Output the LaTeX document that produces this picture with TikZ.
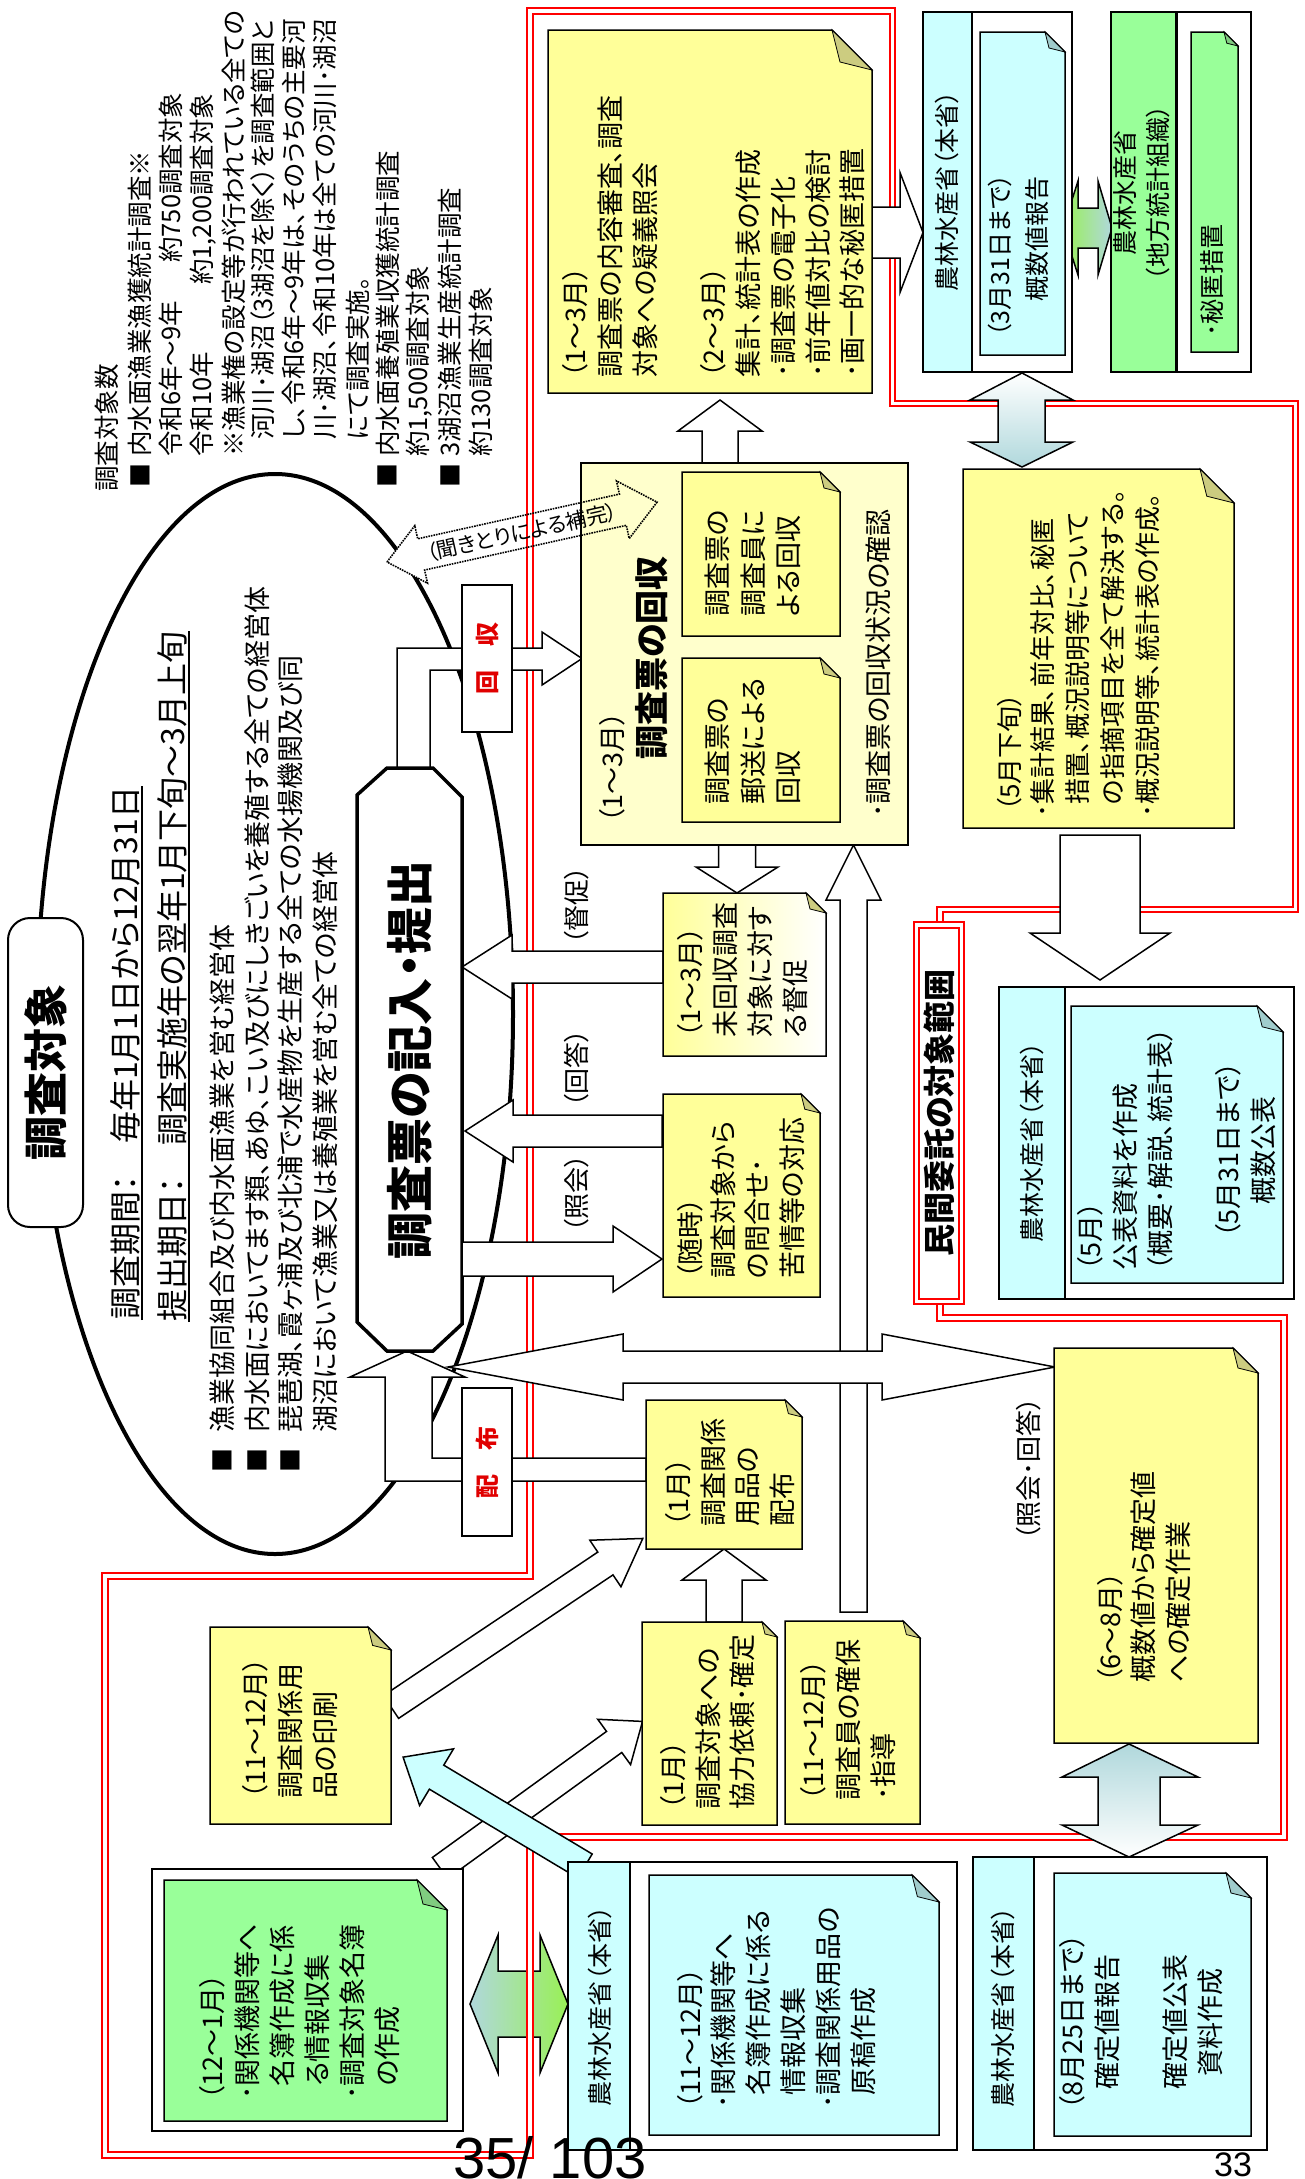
\documentclass[tikz,border=0pt]{standalone}
\usepackage{fontspec}
\setmainfont{Noto Sans CJK JP}[RawFeature={+palt}]
\newfontfamily\arialf{Liberation Sans}
\usetikzlibrary{calc}
\definecolor{nyel}{HTML}{FFFF99}
\definecolor{nyeld}{HTML}{CCCC80}
\definecolor{lyel}{HTML}{FFFFCC}
\definecolor{ncy}{HTML}{CCFFFF}
\definecolor{ncyd}{HTML}{A0CCCC}
\definecolor{ngr}{HTML}{99FF99}
\definecolor{ngrd}{HTML}{80CC80}
\definecolor{lbl}{HTML}{B0D8DC}
\definecolor{lgr}{HTML}{99F055}
\definecolor{rred}{HTML}{FF0000}
\definecolor{tred}{HTML}{E00000}
\newcommand\fs[1]{\fontsize{#1}{#1}\selectfont}
\tikzset{
 vtext/.style={rotate=90,inner sep=0pt,anchor=base west},
 vcen/.style={rotate=90,inner sep=0pt},
 boxline/.style={line width=1.5pt},
 foldline/.style={line width=0.8pt},
 reddbl/.style={draw=rred,line width=2.2pt,double=white,double distance=3.4pt},
 sqmark/.style={rotate=90,inner sep=0pt,font=\fs{24}},
}
\newcommand\vt[5]{\node[vtext,font=\fs{#2}] (#1) at ({#3+0.38*#2},#4) {#5};}
\newcommand\vc[5]{\node[vtext,anchor=base,font=\fs{#2}] (#1) at ({#3+0.38*#2},#4) {#5};}
\newcommand\notebox[7]{%
  \draw[boxline,#6] (#1,#2) -- ({#3-#5},#2) -- (#3,{#2+#5}) -- (#3,#4) -- (#1,#4) -- cycle;
  \draw[foldline,fill=#7] ({#3-#5},#2) -- (#3,{#2+#5}) -- ({#3-0.8*#5},{#2+0.8*#5}) -- cycle;}
\newcommand\barrow[8]{%
  \begin{scope}[shift={(#1,#2)},rotate=#3]
  \draw[boxline,fill=#8] (0,-#5) -- ({#4-#7},-#5) -- ({#4-#7},-#6) -- (#4,0) -- ({#4-#7},#6) -- ({#4-#7},#5) -- (0,#5) -- cycle;
  \end{scope}}
\newcommand\dotarrowpath{(0,0) -- (35,-29.5) -- (35,-16) -- (241.6,-16) -- (241.6,-29.5) -- (276.6,0) -- (241.6,29.5) -- (241.6,16) -- (35,16) -- (35,29.5) -- cycle}
\begin{document}
\begin{tikzpicture}[x=1pt,y=-1pt]
\useasboundingbox (0,0) rectangle (1304,2179);
\fill[white] (0,0) rectangle (1304,2179);

% green-blue double arrow (under the red frame)
\draw[boxline,left color=lbl,right color=lgr] (470,2004) -- (498,1935) -- (498,1971) -- (540,1971) -- (540,1935) -- (568,2004) -- (540,2073) -- (540,2037) -- (498,2037) -- (498,2073) -- cycle;

% ellipse
\draw[line width=4pt] (275,1014) ellipse [x radius=238pt, y radius=540pt];

% dotted double arrow: white body hiding the ellipse
\begin{scope}[shift={(387,562)},rotate=12.5]
\fill[white] \dotarrowpath;
\end{scope}

% red frame
\draw[reddbl] (940,925) -- (940,909.5) -- (1295.5,909.5) -- (1295.5,403.5) -- (892.5,403.5) -- (892.5,11) -- (530,11) -- (530,1576) -- (105,1576) -- (105,2155) -- (530,2155) -- (530,1837) -- (1284,1837) -- (1284,1318) -- (940,1318) -- (940,1301.5);
\draw[reddbl,fill=white] (916.5,925) rectangle (961.5,1301.5);

% L-shaped arrows
\draw[boxline,fill=white] (397,768) -- (397,648) -- (542,648) -- (542,632) -- (582,658.5) -- (542,685) -- (542,670) -- (430,670) -- (430,768) -- cycle;
\draw[boxline,fill=white] (407,1351) -- (465,1377) -- (432,1377) -- (432,1458) -- (646,1458) -- (646,1481) -- (385,1481) -- (385,1377) -- (350,1377) -- cycle;

% octagon
\draw[line width=3.5pt,fill=white] (357,795) -- (387,768) -- (433,768) -- (462,797) -- (462,1324) -- (433,1351) -- (387,1351) -- (357,1322) -- cycle;

% label boxes
\draw[line width=2pt,fill=white] (462,585) rectangle (512,732);
\draw[line width=2pt,fill=white] (462,1388) rectangle (512,1536);
\draw[line width=2pt,fill=white,rounded corners=22pt] (8,918) rectangle (83,1227);

% arrows
\barrow{853.5}{1612}{90}{767}{13.5}{27.5}{55}{white}
\draw[boxline,fill=white] (448,1367) -- (623,1334) -- (623,1351) -- (882,1351) -- (882,1334) -- (1055,1367) -- (882,1400) -- (882,1383) -- (623,1383) -- (623,1400) -- cycle;
\barrow{872}{232.5}{0}{51}{25.5}{60}{23}{white}
\barrow{720}{463}{90}{63}{18}{42}{31}{white}
\barrow{737}{845}{-90}{48}{18.5}{41}{26}{white}
\barrow{663}{967}{180}{201}{16}{32}{50}{white}
\barrow{662}{1131}{180}{197}{16}{31}{48}{white}
\barrow{462}{1259}{0}{200}{17}{33}{49}{white}
\barrow{724}{1622}{90}{73}{18}{42}{31}{white}
\barrow{1100}{835}{-90}{145}{40}{70}{47}{white}
\barrow{391}{1707}{33.8}{303}{13.7}{28}{45}{white}
\barrow{440}{1868}{35.9}{250}{13}{28}{35}{white}
\barrow{585}{1866}{149.1}{212}{14}{33}{39}{ncy}
\draw[boxline,left color=lgr,right color=lbl] (1063,228) -- (1078,181) -- (1078,208) -- (1098,208) -- (1098,181) -- (1112,228) -- (1098,275) -- (1098,248) -- (1078,248) -- (1078,275) -- cycle;
\draw[boxline,top color=white,bottom color=lbl] (1022,373) -- (1073,400) -- (1045,400) -- (1045,442) -- (1073,442) -- (1022,467) -- (970,442) -- (998,442) -- (998,400) -- (970,400) -- cycle;
\draw[boxline,top color=lbl,bottom color=white] (1129,1744) -- (1198,1777) -- (1160,1777) -- (1160,1825) -- (1198,1825) -- (1129,1857) -- (1062,1825) -- (1098,1825) -- (1098,1777) -- (1062,1777) -- cycle;

% notes and boxes
\notebox{548}{30}{872}{393}{40}{fill=nyel}{nyeld}
\draw[boxline,fill=lyel] (581,463) rectangle (908,845);
\notebox{682}{472}{840}{636}{20}{fill=nyel}{nyeld}
\notebox{682}{658}{840}{822}{20}{fill=nyel}{nyeld}
\notebox{663}{893}{826}{1056}{20}{left color=nyel,right color=white}{nyeld}
\notebox{663}{1094}{820}{1297}{19}{fill=nyel}{nyeld}
\notebox{646}{1400}{802}{1549}{17}{fill=nyel}{nyeld}
\notebox{642}{1622}{777}{1825}{15}{fill=nyel}{nyeld}
\notebox{785}{1621}{920}{1824}{17}{fill=nyel}{nyeld}
\notebox{210}{1627}{391}{1824}{23}{fill=nyel}{nyeld}
\draw[boxline,fill=white] (152,1869) rectangle (463,2131);
\notebox{164}{1880}{447}{2121}{30}{fill=ngr}{ngrd}
\draw[boxline,fill=white] (568,1862) rectangle (957,2150);
\draw[boxline,fill=ncy] (568,1862) rectangle (630,2150);
\notebox{649}{1875}{939}{2135}{27}{fill=ncy}{ncyd}
\draw[boxline,fill=white] (973,1857) rectangle (1267,2150);
\draw[boxline,fill=ncy] (973,1857) rectangle (1034,2150);
\notebox{1054}{1873}{1251}{2136}{25}{fill=ncy}{ncyd}
\notebox{1054}{1348}{1258}{1743}{25}{fill=nyel}{nyeld}
\draw[boxline,fill=white] (999,987) rectangle (1294,1299);
\draw[boxline,fill=ncy] (999,987) rectangle (1065,1299);
\notebox{1071}{1006}{1283}{1283}{26}{fill=ncy}{ncyd}
\notebox{963}{469}{1234}{828}{34}{fill=nyel}{nyeld}
\draw[boxline,fill=white] (923,12) rectangle (1072,372);
\draw[boxline,fill=ncy] (923,12) rectangle (972,372);
\notebox{980}{32}{1065}{355}{20}{fill=ncy}{ncyd}
\draw[boxline,fill=white] (1111,12) rectangle (1251,372);
\draw[boxline,fill=ngr] (1111,12) rectangle (1176,372);
\draw[line width=3pt] (1176,12) -- (1176,372);
\notebox{1191}{32}{1238}{352}{14}{fill=ngr}{ngrd}

% dotted double arrow outline, over the collection box
\begin{scope}[shift={(387,562)},rotate=12.5]
\draw[line width=1.6pt,densely dotted] \dotarrowpath;
\end{scope}
\node[rotate=12.5,inner sep=0pt,font=\fs{21}] (kiki) at (522,532) {（聞きとりによる補完）};

% ---------------- texts ----------------
% top-left block
\vt{k0}{25.5}{107}{492}{調査対象数}
\node[sqmark] (k1s) at (140,475) {■};
\vt{k1}{25.5}{140}{457}{内水面漁業漁獲統計調査※}
\vt{k2}{25.5}{171}{457}{令和6年～9年}
\vt{k2b}{25.5}{171}{263}{約750調査対象}
\vt{k3}{25.5}{202}{457}{令和10年}
\vt{k3b}{25.5}{202}{285}{約1,200調査対象}
\vt{k4}{25.5}{234}{457}{※漁業権の設定等が行われている全ての}
\vt{k5}{25.5}{263}{440}{河川･湖沼（3湖沼を除く）を調査範囲と}
\vt{k6}{25.5}{294}{440}{し、令和6年～9年は、そのうちの主要河}
\vt{k7}{25.5}{325}{440}{川･湖沼、令和10年は全ての河川･湖沼}
\vt{k8}{25.5}{358}{440}{にて調査実施。}
\node[sqmark] (k9s) at (387,475) {■};
\vt{k9}{25.5}{388}{457}{内水面養殖業収獲統計調査}
\vt{k10}{25.5}{418}{457}{約1,500調査対象}
\node[sqmark] (k11s) at (450,475) {■};
\vt{k11}{25.5}{450}{457}{3湖沼漁業生産統計調査}
\vt{k12}{25.5}{481}{457}{約130調査対象}

% ellipse texts
\node[vcen,font=\fs{44}\bfseries] (cho) at (46,1072) {調査対象};
\vt{e1}{32}{125}{1320}{調査期間：　毎年1月1日から12月31日}
\vt{e2}{32}{172}{1322}{提出期日：　調査実施年の翌年1月下旬～3月上旬}
\draw[line width=1.5pt] ($(e1.base west)+(5,0)$) -- ($(e1.base east)+(5,0)$);
\draw[line width=1.5pt] ($(e2.base west)+(5,0)$) -- ($(e2.base east)+(5,0)$);
\node[sqmark] (b1s) at (222,1460) {■};
\node[sqmark] (b2s) at (257,1460) {■};
\node[sqmark] (b3s) at (290,1460) {■};
\vt{b1}{27}{222}{1433}{漁業協同組合及び内水面漁業を営む経営体}
\vt{b2}{27}{257}{1433}{内水面においてます類、あゆ、こい及びにしきごいを養殖する全ての経営体}
\vt{b3}{27}{290}{1433}{琵琶湖、霞ヶ浦及び北浦で水産物を生産する全ての水揚機関及び同}
\vt{b4}{27}{325}{1433}{湖沼において漁業又は養殖業を営む全ての経営体}
\node[vcen,font=\fs{47}\bfseries] (oct) at (410,1060) {調査票の記入・提出};
\node[vcen,font=\fs{24}\bfseries,text=tred] (kai) at (487,658) {回　収};
\node[vcen,font=\fs{24}\bfseries,text=tred] (hai) at (487,1462) {配　布};

% top note
\vt{n1a}{27}{575}{378}{（1～3月）}
\vt{n1b}{27}{610}{378}{調査票の内容審査、調査}
\vt{n1c}{27}{645}{378}{対象への疑義照会}
\vt{n1d}{27}{713}{378}{（2～3月）}
\vt{n1e}{27}{748}{378}{集計、統計表の作成}
\vt{n1f}{27}{783}{378}{･調査票の電子化}
\vt{n1g}{27}{818}{378}{･前年値対比の検討}
\vt{n1h}{27}{852}{378}{･画一的な秘匿措置}

% collection box
\vt{r1}{27}{612}{823}{（1～3月）}
\vt{r2}{34}{652}{760}{\bfseries 調査票の回収}
\vt{r3}{27}{717}{805}{調査票の}
\vt{r4}{27}{753}{805}{郵送による}
\vt{r5}{27}{788}{805}{回収}
\vt{r6}{27}{717}{617}{調査票の}
\vt{r7}{27}{753}{617}{調査員に}
\vt{r8}{27}{788}{617}{よる回収}
\vt{r9}{27}{878}{818}{･調査票の回収状況の確認}

% arrow labels
\vt{l1}{26}{577}{945}{（督促）}
\vt{l2}{26}{577}{1108}{（回答）}
\vt{l3}{26}{577}{1233}{（照会）}
\vt{s4}{26}{1029}{1541}{（照会･回答）}

% middle notes
\vt{u1}{27}{690}{1038}{（1～3月）}
\vt{u2}{27}{725}{1038}{未回収調査}
\vt{u3}{27}{760}{1038}{対象に対す}
\vt{u4}{27}{795}{1038}{る督促}
\vt{z1}{27}{690}{1279}{（随時）}
\vt{z2}{27}{723}{1279}{調査対象から}
\vt{z3}{27}{757}{1279}{の問合せ･}
\vt{z4}{27}{792}{1279}{苦情等の対応}
\vt{h1}{27}{678}{1527}{（1月）}
\vt{h2}{27}{713}{1527}{調査関係}
\vt{h3}{27}{747}{1527}{用品の}
\vt{h4}{27}{782}{1527}{配布}
\vt{q1}{27}{673}{1810}{（1月）}
\vt{q2}{27}{708}{1810}{調査対象への}
\vt{q3}{27}{742}{1810}{協力依頼･確定}
\vt{w1}{27}{813}{1801}{（11～12月）}
\vt{w2}{27}{848}{1801}{調査員の確保}
\vt{w3}{27}{883}{1801}{･指導}
\vt{p1}{27}{255}{1799}{（11～12月）}
\vt{p2}{27}{290}{1799}{調査関係用}
\vt{p3}{27}{325}{1799}{品の印刷}

% bottom-left green
\vt{g1}{27}{212}{2100}{（12～1月）}
\vt{g2}{27}{247}{2100}{･関係機関等へ}
\vt{g3}{27}{282}{2100}{\hspace{0.5em}名簿作成に係}
\vt{g4}{27}{317}{2100}{\hspace{0.5em}る情報収集}
\vt{g5}{27}{352}{2100}{･調査対象名簿}
\vt{g6}{27}{387}{2100}{\hspace{0.5em}の作成}

% bottom cyan boxes
\vc{c0}{25}{600}{2006}{農林水産省（本省）}
\vt{c1}{27}{690}{2109}{（11～12月）}
\vt{c2}{27}{723}{2109}{･関係機関等へ}
\vt{c3}{27}{758}{2109}{\hspace{0.5em}名簿作成に係る}
\vt{c4}{27}{793}{2109}{\hspace{0.5em}情報収集}
\vt{c5}{27}{828}{2109}{･調査関係用品の}
\vt{c6}{27}{863}{2109}{\hspace{0.5em}原稿作成}
\vc{m0}{25}{1003}{2007}{農林水産省（本省）}
\vc{m1}{27}{1072}{2022}{（8月25日まで）}
\vc{m2}{27}{1107}{2022}{確定値報告}
\vc{m3}{27}{1175}{2022}{確定値公表}
\vc{m4}{27}{1210}{2022}{資料作成}

% right column
\vt{s1}{27}{1110}{1683}{（6～8月）}
\vt{s2}{27}{1143}{1683}{概数値から確定値}
\vt{s3}{27}{1178}{1683}{への確定作業}
\vc{v0}{25}{1032}{1142}{農林水産省（本省）}
\vt{v1}{27}{1090}{1271}{（5月）}
\vt{v2}{27}{1125}{1271}{公表資料を作成}
\vt{v3}{27}{1160}{1271}{（概要･解説、統計表）}
\vc{v4}{27}{1228}{1150}{（5月31日まで）}
\vc{v5}{27}{1263}{1150}{概数公表}
\node[vcen,font=\fs{32}\bfseries] (mk) at (939,1113) {民間委託の対象範囲};
\vt{y1}{26}{1010}{812}{（5月下旬）}
\vt{y2}{26}{1043}{818}{･集計結果、前年対比、秘匿}
\vt{y3}{26}{1078}{818}{\hspace{0.5em}措置、概況説明等について}
\vt{y4}{26}{1113}{818}{\hspace{0.5em}の指摘項目を全て解決する。}
\vt{y5}{26}{1148}{818}{･概況説明等、統計表の作成。}
\vc{t0}{25}{947}{191}{農林水産省（本省）}
\vt{t1}{25}{1000}{337}{（3月31日まで）}
\vt{t2}{25}{1037}{302}{概数値報告}
\vc{gr0}{25}{1125}{193}{農林水産省}
\vc{gr1}{25}{1158}{193}{（地方統計組織）}
\vt{gr2}{25}{1212}{337}{･秘匿措置}

% page numbers
\node[anchor=base west,inner sep=0pt,font=\arialf\fs{58}] (pg) at (453,2178) {35/ 103};
\node[anchor=base west,inner sep=0pt,font=\arialf\fs{34}] (pg2) at (1214,2176) {33};
\end{tikzpicture}
\end{document}
